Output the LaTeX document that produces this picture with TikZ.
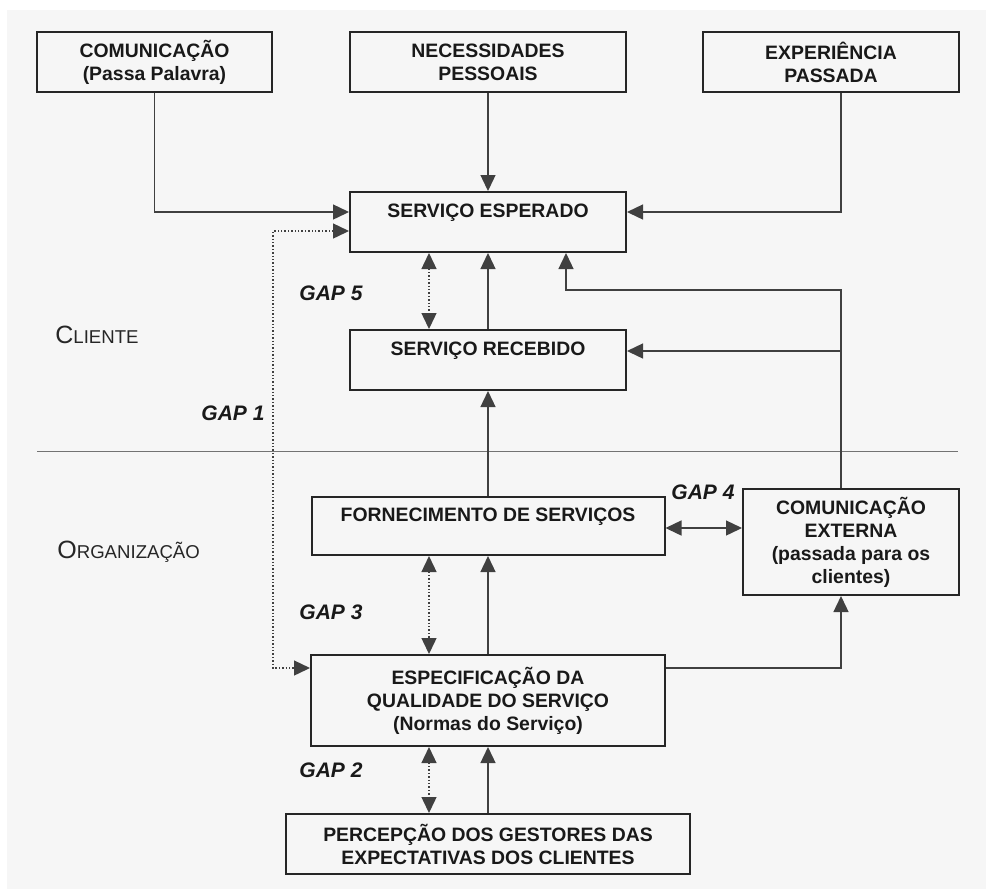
\documentclass[tikz,border=0pt]{standalone}
\usepackage{fontspec}
\setmainfont{Liberation Sans}
\usetikzlibrary{arrows.meta}

\definecolor{fundo}{gray}{0.965}

\tikzset{
	caixa/.style={draw=black!85, line width=1pt, inner sep=0pt, align=center, text=black!90,
		font=\bfseries\fontsize{9.7}{11.5}\selectfont},
	seta/.style={draw=black!75, line width=0.7pt, -{Triangle[length=8pt,width=7.5pt]}},
	dupla/.style={draw=black!75, line width=0.7pt, {Triangle[length=8pt,width=7.5pt]}-{Triangle[length=8pt,width=7.5pt]}},
	gapseta/.style={dupla, densely dotted},
	gap/.style={font=\bfseries\itshape\fontsize{10.5}{12}\selectfont, text=black!90, inner sep=0pt},
	lado/.style={anchor=west, inner sep=0pt, text=black!85}
}

\begin{document}
\begin{tikzpicture}[x=0.5pt, y=-0.5pt]

		\useasboundingbox (0,0) rectangle (986,891);
		% fundo
		\fill[fundo] (7,10) rectangle (986,889);

		% linha entre cliente e organizacao
		\draw[black!55, line width=0.5pt] (37,451) -- (958,451);

		% caixas de cima
		\node[caixa, minimum width=117.5pt, minimum height=30pt] (com) at (154.5,62) {COMUNICAÇÃO\\(Passa Palavra)};
		\node[caixa, minimum width=138pt, minimum height=30pt] (nec) at (488,62) {NECESSIDADES\\PESSOAIS};
		\node[caixa, minimum width=128pt, minimum height=30pt] (exp) at (831,62) {EXPERIÊNCIA\\PASSADA};

		% lado do cliente
		\node[caixa, minimum width=138pt, minimum height=30pt] (esp) at (488,222) {SERVIÇO ESPERADO\\\mbox{}};
		\node[caixa, minimum width=138pt, minimum height=30pt] (rec) at (488,360) {SERVIÇO RECEBIDO\\\mbox{}};

		% lado da organizacao
		\node[caixa, minimum width=176.5pt, minimum height=29pt] (forn) at (488,526) {FORNECIMENTO DE SERVIÇOS\\\mbox{}};
		\node[caixa, minimum width=108pt, minimum height=53pt] (cext) at (851,542) {COMUNICAÇÃO\\EXTERNA\\(passada para os\\clientes)};
		\node[caixa, minimum width=177pt, minimum height=45.5pt] (espec) at (488,700.5) {ESPECIFICAÇÃO DA\\QUALIDADE DO SERVIÇO\\(Normas do Serviço)};
		\node[caixa, minimum width=202pt, minimum height=30pt] (perc) at (488,844) {PERCEPÇÃO DOS GESTORES DAS\\EXPECTATIVAS DOS CLIENTES};

		% colunas das linhas
		\coordinate (col) at (841,0);
		\coordinate (gx) at (429,0);
		\coordinate (g1) at (273,0);
		\coordinate (topo) at (841,290);

		% entradas do servico esperado
		\draw[seta] (com.south) |- ([yshift=5pt]esp.west);
		\draw[seta] (nec) -- (esp);
		\draw[seta] (exp.south -| col) |- ([yshift=5pt]esp.east);

		% GAP 1
		\coordinate (a1) at ([yshift=-4.5pt]esp.west);
		\coordinate (b1) at ([yshift=16.25pt]espec.west);
		\draw[gapseta] (a1) -- (a1 -| g1) -- (b1 -| g1) -- (b1);

		% GAP 5
		\draw[gapseta] (esp.south -| gx) -- (rec.north -| gx);
		\draw[seta] (rec) -- (esp);

		% comunicacao externa para o cliente
		\draw[seta] (cext.north -| col) -- (topo) -| ([xshift=39pt]esp.south);
		\coordinate (r1) at ([yshift=4.5pt]rec.east);
		\draw[seta] (r1 -| col) -- (r1);

		\draw[seta] (forn) -- (rec);

		% GAP 4
		\coordinate (f1) at ([yshift=-1pt]forn.east);
		\draw[dupla] (f1) -- (f1 -| cext.west);

		% GAP 3
		\draw[gapseta] (forn.south -| gx) -- (espec.north -| gx);
		\draw[seta] (espec) -- (forn);
		\coordinate (e1) at ([yshift=16.25pt]espec.east);
		\draw[seta] (e1) -| (cext.south -| col);

		% GAP 2
		\draw[gapseta] (espec.south -| gx) -- (perc.north -| gx);
		\draw[seta] (perc) -- (espec);

		% legendas
		\node[gap] (gap5) at (331,293) {GAP 5};
		\node[gap] (gap1) at (233,413) {GAP 1};
		\node[gap] (gap4) at (703,492) {GAP 4};
		\node[gap] (gap3) at (331,612) {GAP 3};
		\node[gap] (gap2) at (331,770) {GAP 2};

		\node[lado] (cliente) at (55,335) {{\fontsize{12.5}{14}\selectfont C}{\fontsize{9.3}{11}\selectfont LIENTE}};
		\node[lado] (organizacao) at (57,552) {{\fontsize{12.5}{14}\selectfont O}{\fontsize{9.3}{11}\selectfont RGANIZAÇÃO}};

	\end{tikzpicture}
\end{document}
